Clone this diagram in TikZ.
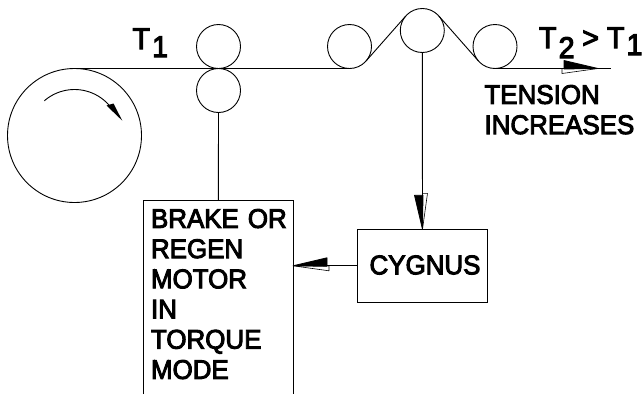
\documentclass[tikz,border=0pt]{standalone}
\usepackage{fontspec}
\newfontfamily\labelfont[FakeStretch=0.96,FakeBold=3.5]{Liberation Sans}
\usepackage{pgf,tikz}
\usetikzlibrary{positioning,calc}
\tikzset{
  line/.style={draw=black, line width=0.9pt},
  roll/.style={circle, line, inner sep=0pt, outer sep=0pt, minimum size=44pt},
  bx/.style={rectangle, line, inner sep=0pt, outer sep=0pt},
  lb/.style={font=\labelfont\fontsize{27}{30.2}\selectfont, inner sep=0pt, outer sep=0pt},
  tlb/.style={font=\labelfont\fontsize{30}{30}\selectfont, inner sep=0pt, outer sep=0pt, anchor=base west},
  halfhead/.pic={
    \filldraw[black, line width=0.8pt, line join=bevel] (0,0) -- (-34,-8) -- (-34,0.5) -- cycle;
    \draw[line width=0.6pt, line join=bevel] (0,0) -- (-36,5) -- (-36,0) -- cycle;
  },
}
\newcommand{\sbs}[2][-8pt]{\hspace{2pt}\raisebox{#1}{#2}}

\begin{document}
\begin{tikzpicture}[x=1pt, y=-1pt]
  \useasboundingbox (0,0) rectangle (642,394);
  \node[roll, minimum size=134pt] (unwind) at (74.5,135.5) {};
  \node[roll] (nipa) at (218.5,46.5) {};
  \node[roll, below=0pt of nipa] (nipb) {};
  \node[roll] (rolla) at (349.5,46.5) {};
  \node[roll] (rollb) at (422.3,30.5) {};
  \node[roll] (rollc) at (495,46.5) {};
  \node[bx, minimum width=130.4pt, minimum height=73pt] (cygnus) at (422.5,265.8) {};
  \node[lb] (cygnustxt) at (425,265) {CYGNUS};
  \node[minimum width=149.3pt, minimum height=193.3pt, inner sep=0pt, outer sep=0pt] (brake) at (218.35,297.35) {};
  \node[lb, anchor=north west, align=left, text width=140pt] (braketxt) at (151,209) {BRAKE OR\\REGEN\\MOTOR\\IN\\TORQUE\\MODE};
  \node[tlb] (tone) at (132.5,49) {T\sbs{1}};
  \node[tlb] (ttwo) at (539,48) {T\sbs[-10pt]{2}\hspace{7.5pt}>\hspace{8pt}T\sbs[-7pt]{1}};
  \node[lb, anchor=north west, align=left] (tension) at (484.5,85) {TENSION\\INCREASES};
  \coordinate (webend) at (611,68.5);
  \coordinate (webtip) at (598,68.5);
  \draw[line] (unwind.north) -- (rolla.south);
  \draw[line] (rolla.-41) -- (rollb.139);
  \draw[line] (rollb.41) -- (rollc.-139);
  \draw[line] (rollc.south) -- (webend);
  \pic at (webtip) {halfhead};
  \draw[line] (nipb.south) -- (brake.north);
  \draw[line] (brake.south west) |- (brake.north east) -- (brake.south east);
  \draw[line] (rollb.south) -- (cygnus.north);
  \pic[rotate=-90, yscale=-1] at (cygnus.north) {halfhead};
  \draw[line] (cygnus.west) -- (cygnus.west -| brake.east);
  \pic[xscale=-1] at (cygnus.west -| brake.east) {halfhead};
  \coordinate (spinstart) at ($(unwind.center)+(-131:46)$);
  \coordinate (spintip) at (122.3,120.7);
  \draw[line] (spinstart) arc (-131:-40:46);
  \fill[black] (spintip) -- (106.5,105.5) -- (113.5,103.5) -- cycle;
\end{tikzpicture}
\end{document}
